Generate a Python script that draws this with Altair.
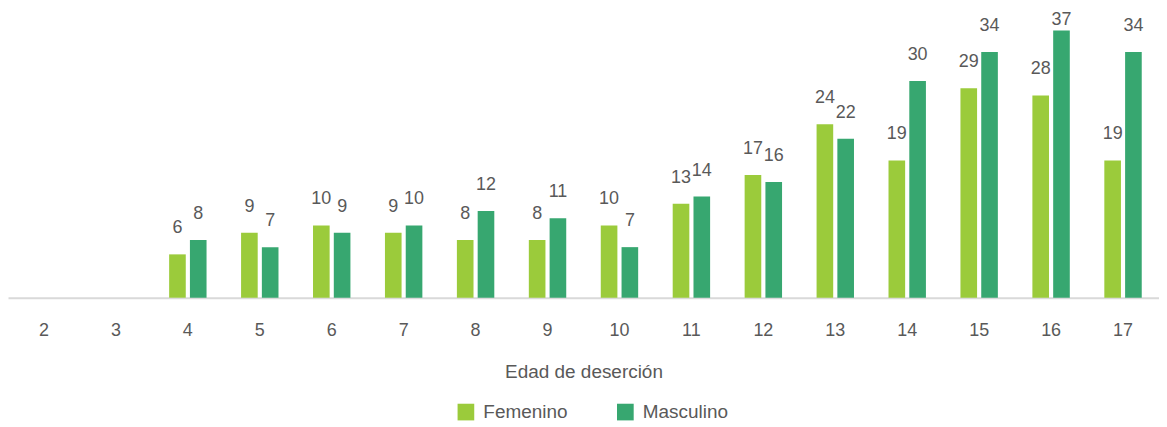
import altair as alt
import pandas as pd

ages = [str(a) for a in range(2, 18)]
femenino = [None, None, 6, 9, 10, 9, 8, 8, 10, 13, 17, 24, 19, 29, 28, 19]
masculino = [None, None, 8, 7, 9, 10, 12, 11, 7, 14, 16, 22, 30, 34, 37, 34]
series = ["Femenino", "Masculino"]
colors = ["#9BCB3B", "#37A770"]

rows = []
for i, a in enumerate(ages):
    for s, vals in zip(series, [femenino, masculino]):
        if vals[i] is not None:
            rows.append({"edad": a, "sexo": s, "valor": vals[i]})
df = pd.DataFrame(rows)

FONT = "Liberation Sans"
TXT = "#595959"

x_enc = alt.X(
    "edad:N",
    sort=ages,
    scale=alt.Scale(domain=ages, paddingInner=0.48, paddingOuter=0.24),
    axis=alt.Axis(
        title="Edad de deserción",
        labelAngle=0,
        labelFontSize=18,
        labelColor=TXT,
        labelFont=FONT,
        labelPadding=24,
        ticks=False,
        domainColor="#D9D9D9",
        domainWidth=2,
        titleFontSize=19,
        titleFont=FONT,
        titleColor=TXT,
        titleFontWeight="normal",
        titlePadding=23,
        grid=False,
    ),
)
xoff = alt.XOffset("sexo:N", sort=series, scale=alt.Scale(paddingInner=0.2))
y_scale = alt.Scale(domain=[0, 40])

bars = alt.Chart(df).mark_bar().encode(
    x=x_enc,
    xOffset=xoff,
    y=alt.Y("valor:Q", scale=y_scale, axis=None),
    color=alt.Color(
        "sexo:N",
        sort=series,
        scale=alt.Scale(domain=series, range=colors),
        legend=alt.Legend(
            title=None,
            orient="none",
            legendX=450,
            legendY=395,
            direction="horizontal",
            symbolType="square",
            symbolSize=280,
            symbolStrokeWidth=0,
            labelFontSize=19,
            labelFont=FONT,
            labelColor=TXT,
            labelOffset=8,
            columnPadding=48,
        ),
    ),
)

labels = alt.Chart(df).transform_calculate(
    pos="min(datum.valor + 3.6, 38.5)"
).mark_text(
    fontSize=18, font=FONT, color=TXT, baseline="middle", align="center"
).encode(
    x=alt.X("edad:N", sort=ages),
    xOffset=alt.XOffset("sexo:N", sort=series),
    y=alt.Y("pos:Q", scale=y_scale),
    text=alt.Text("valor:Q"),
)

chart = alt.layer(bars, labels).properties(
    width=1155,
    height=290,
    padding={"left": 0, "right": 0, "top": 0, "bottom": 0},
).configure_view(stroke=None)

chart.save("out.html", embed_options={"renderer": "svg", "actions": False})
